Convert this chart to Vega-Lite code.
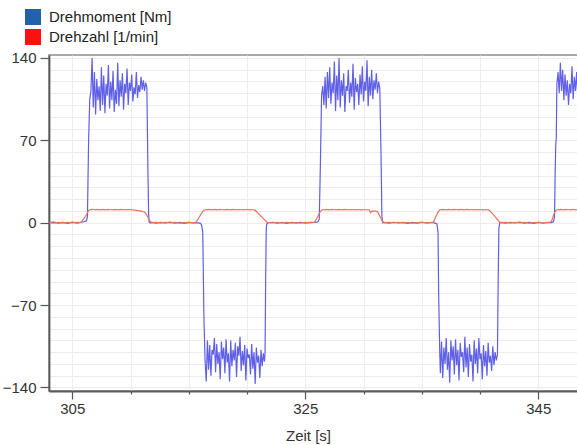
{
  "$schema": "https://vega.github.io/schema/vega-lite/v6.json",
  "width": 530,
  "height": 336,
  "autosize": "none",
  "padding": {"left": 49, "top": 55, "right": 0, "bottom": 54},
  "background": "white",
  "config": {
    "font": "Liberation Sans",
    "view": {"stroke": "#8c8c8c", "strokeWidth": 1.5}
  },
  "data": {"values": [
    {"t":303.0,"M":0,"n":0},{"t":303.4,"M":0.5,"n":-0.3},{"t":303.8,"M":-0.4,"n":0.2},{"t":304.2,"M":0.3,"n":-0.2},{"t":304.6,"M":-0.5,"n":0.3},{"t":305.0,"M":0.4,"n":-0.1},{"t":305.4,"M":-0.3,"n":0.2},{"t":305.75,"M":0.3,"n":0.2},
    {"t":306.0,"M":0.8,"n":3.5},{"t":306.2,"M":1.5,"n":6.5},{"t":306.3,"M":5,"n":8.5},{"t":306.4,"M":70,"n":10.2},
    {"t":306.5,"M":105,"n":11.0},{"t":306.6,"M":112,"n":11.3},{"t":306.7,"M":140,"n":11.1},{"t":306.8,"M":98,"n":11.4},{"t":306.9,"M":128,"n":11.2},
    {"t":307.0,"M":92,"n":11.0},{"t":307.1,"M":122,"n":11.3},{"t":307.2,"M":104,"n":11.1},{"t":307.3,"M":116,"n":10.9},{"t":307.4,"M":95,"n":11.2},
    {"t":307.5,"M":132,"n":11.0},{"t":307.6,"M":100,"n":11.3},{"t":307.7,"M":125,"n":11.1},{"t":307.8,"M":93,"n":10.9},{"t":307.9,"M":118,"n":11.2},
    {"t":308.0,"M":108,"n":11.0},{"t":308.1,"M":134,"n":11.3},{"t":308.2,"M":97,"n":11.1},{"t":308.3,"M":120,"n":11.0},{"t":308.4,"M":104,"n":11.2},
    {"t":308.5,"M":129,"n":10.9},{"t":308.6,"M":94,"n":11.1},{"t":308.7,"M":113,"n":11.3},{"t":308.8,"M":101,"n":11.0},{"t":308.9,"M":136,"n":11.2},
    {"t":309.0,"M":99,"n":10.9},{"t":309.1,"M":121,"n":11.1},{"t":309.2,"M":107,"n":11.3},{"t":309.3,"M":127,"n":11.0},{"t":309.4,"M":96,"n":11.2},
    {"t":309.5,"M":118,"n":11.0},{"t":309.6,"M":110,"n":11.1},{"t":309.7,"M":131,"n":10.9},{"t":309.8,"M":100,"n":11.2},{"t":309.9,"M":119,"n":11.0},
    {"t":310.0,"M":112,"n":11.1},{"t":310.1,"M":126,"n":10.9},{"t":310.2,"M":103,"n":11.0},{"t":310.3,"M":115,"n":10.8},{"t":310.4,"M":109,"n":10.7},
    {"t":310.5,"M":128,"n":10.4},{"t":310.6,"M":106,"n":10.3},{"t":310.7,"M":117,"n":10.1},{"t":310.8,"M":111,"n":10.0},{"t":310.9,"M":124,"n":9.8},
    {"t":311.0,"M":113,"n":9.6},{"t":311.1,"M":121,"n":9.3},{"t":311.2,"M":112,"n":9.0},{"t":311.3,"M":119,"n":8.0},{"t":311.4,"M":115,"n":6.5},
    {"t":311.5,"M":40,"n":4.5},{"t":311.55,"M":8,"n":3.5},{"t":311.6,"M":0.5,"n":2.5},{"t":311.7,"M":-0.3,"n":1},{"t":311.8,"M":0.2,"n":0},
    {"t":312.2,"M":-0.4,"n":0.2},{"t":312.6,"M":0.3,"n":-0.2},{"t":313.0,"M":-0.2,"n":0.3},{"t":313.4,"M":0.5,"n":-0.1},{"t":313.8,"M":-0.3,"n":0.2},
    {"t":314.2,"M":0.2,"n":-0.3},{"t":314.6,"M":-0.5,"n":0.1},{"t":315.0,"M":0.3,"n":0.2},{"t":315.4,"M":-0.2,"n":-0.1},{"t":315.6,"M":0,"n":0.3},
    {"t":315.8,"M":-0.2,"n":3},{"t":316.0,"M":-0.5,"n":6.5},{"t":316.1,"M":-2,"n":8},{"t":316.2,"M":-8,"n":9.5},{"t":316.3,"M":-80,"n":10.5},
    {"t":316.4,"M":-118,"n":11.0},{"t":316.5,"M":-135,"n":11.2},{"t":316.6,"M":-100,"n":11.0},{"t":316.7,"M":-125,"n":11.3},{"t":316.8,"M":-104,"n":11.1},
    {"t":316.9,"M":-130,"n":10.9},{"t":317.0,"M":-108,"n":11.2},{"t":317.1,"M":-112,"n":11.0},{"t":317.2,"M":-98,"n":11.3},{"t":317.3,"M":-127,"n":11.1},
    {"t":317.4,"M":-103,"n":10.9},{"t":317.5,"M":-120,"n":11.2},{"t":317.6,"M":-110,"n":11.0},{"t":317.7,"M":-133,"n":11.3},{"t":317.8,"M":-101,"n":11.1},
    {"t":317.9,"M":-116,"n":11.0},{"t":318.0,"M":-106,"n":11.2},{"t":318.1,"M":-128,"n":10.9},{"t":318.2,"M":-99,"n":11.1},{"t":318.3,"M":-119,"n":11.3},
    {"t":318.4,"M":-111,"n":11.0},{"t":318.5,"M":-135,"n":11.2},{"t":318.6,"M":-100,"n":10.9},{"t":318.7,"M":-122,"n":11.1},{"t":318.8,"M":-108,"n":11.3},
    {"t":318.9,"M":-117,"n":11.0},{"t":319.0,"M":-102,"n":11.2},{"t":319.1,"M":-131,"n":11.0},{"t":319.2,"M":-105,"n":11.1},{"t":319.3,"M":-113,"n":10.9},
    {"t":319.4,"M":-97,"n":11.2},{"t":319.5,"M":-126,"n":11.0},{"t":319.6,"M":-109,"n":11.1},{"t":319.7,"M":-121,"n":10.9},{"t":319.8,"M":-104,"n":11.0},
    {"t":319.9,"M":-134,"n":11.2},{"t":320.0,"M":-107,"n":11.0},{"t":320.1,"M":-115,"n":11.1},{"t":320.2,"M":-112,"n":10.9},{"t":320.3,"M":-129,"n":11.0},
    {"t":320.4,"M":-103,"n":11.1},{"t":320.5,"M":-124,"n":11.0},{"t":320.6,"M":-110,"n":10.9},{"t":320.7,"M":-137,"n":10.5},{"t":320.8,"M":-106,"n":9.5},
    {"t":320.9,"M":-119,"n":8.5},{"t":321.0,"M":-113,"n":7.5},{"t":321.1,"M":-132,"n":6.5},{"t":321.2,"M":-108,"n":5.5},{"t":321.3,"M":-122,"n":4.5},
    {"t":321.4,"M":-111,"n":3.5},{"t":321.5,"M":-118,"n":2.5},{"t":321.55,"M":-110,"n":2},{"t":321.6,"M":-50,"n":1.5},{"t":321.65,"M":-5,"n":1},
    {"t":321.7,"M":-1,"n":0.5},{"t":321.8,"M":0,"n":0},
    {"t":322.2,"M":0.4,"n":-0.2},{"t":322.6,"M":-0.3,"n":0.2},{"t":323.0,"M":0.2,"n":-0.1},{"t":323.4,"M":-0.5,"n":0.3},{"t":323.8,"M":0.3,"n":-0.2},
    {"t":324.2,"M":-0.2,"n":0.1},{"t":324.6,"M":0.4,"n":-0.3},{"t":325.0,"M":-0.3,"n":0.2},{"t":325.4,"M":0.2,"n":-0.1},{"t":325.8,"M":0.2,"n":0.4},
    {"t":326.0,"M":0.5,"n":4},{"t":326.1,"M":1,"n":6},{"t":326.2,"M":3,"n":8},{"t":326.3,"M":50,"n":9.5},{"t":326.4,"M":108,"n":10.5},
    {"t":326.5,"M":116,"n":11.0},{"t":326.6,"M":100,"n":11.2},{"t":326.7,"M":124,"n":11.0},{"t":326.8,"M":97,"n":11.3},{"t":326.9,"M":128,"n":11.1},
    {"t":327.0,"M":106,"n":10.9},{"t":327.1,"M":132,"n":11.2},{"t":327.2,"M":101,"n":11.0},{"t":327.3,"M":119,"n":11.3},{"t":327.4,"M":110,"n":11.1},
    {"t":327.5,"M":137,"n":11.0},{"t":327.6,"M":95,"n":11.2},{"t":327.7,"M":125,"n":10.9},{"t":327.8,"M":104,"n":11.1},{"t":327.9,"M":140,"n":11.3},
    {"t":328.0,"M":98,"n":11.0},{"t":328.1,"M":121,"n":11.2},{"t":328.2,"M":108,"n":10.9},{"t":328.3,"M":127,"n":11.1},{"t":328.4,"M":94,"n":11.3},
    {"t":328.5,"M":116,"n":11.0},{"t":328.6,"M":112,"n":11.2},{"t":328.7,"M":130,"n":11.0},{"t":328.8,"M":102,"n":11.1},{"t":328.9,"M":119,"n":10.9},
    {"t":329.0,"M":107,"n":11.2},{"t":329.1,"M":135,"n":11.0},{"t":329.2,"M":96,"n":11.1},{"t":329.3,"M":123,"n":10.9},{"t":329.4,"M":111,"n":11.0},
    {"t":329.5,"M":118,"n":11.2},{"t":329.6,"M":100,"n":11.0},{"t":329.7,"M":126,"n":11.1},{"t":329.8,"M":109,"n":10.9},{"t":329.9,"M":133,"n":11.0},
    {"t":330.0,"M":103,"n":11.1},{"t":330.1,"M":120,"n":11.0},{"t":330.2,"M":112,"n":10.9},{"t":330.3,"M":138,"n":11.0},{"t":330.4,"M":99,"n":11.0},
    {"t":330.5,"M":124,"n":10.8},{"t":330.6,"M":108,"n":8.5},{"t":330.7,"M":130,"n":9.5},{"t":330.8,"M":105,"n":10.0},{"t":330.9,"M":121,"n":9.9},
    {"t":331.0,"M":113,"n":9.8},{"t":331.1,"M":127,"n":9.6},{"t":331.2,"M":110,"n":9.4},{"t":331.3,"M":120,"n":7.5},{"t":331.4,"M":114,"n":5.5},
    {"t":331.5,"M":60,"n":3.5},{"t":331.58,"M":5,"n":2},{"t":331.65,"M":0,"n":1},{"t":331.75,"M":0.2,"n":0},
    {"t":332.2,"M":-0.3,"n":0.2},{"t":332.6,"M":0.4,"n":-0.2},{"t":333.0,"M":-0.2,"n":0.3},{"t":333.4,"M":0.3,"n":-0.1},{"t":333.8,"M":-0.5,"n":0.2},
    {"t":334.2,"M":0.2,"n":-0.3},{"t":334.6,"M":-0.3,"n":0.1},{"t":335.0,"M":0.4,"n":0.2},{"t":335.4,"M":-0.2,"n":-0.1},{"t":335.8,"M":0.1,"n":0.2},
    {"t":336.0,"M":0,"n":0.5},{"t":336.2,"M":-0.5,"n":5},{"t":336.3,"M":-1,"n":7},{"t":336.4,"M":-8,"n":9},{"t":336.45,"M":-60,"n":10},
    {"t":336.55,"M":-112,"n":11.0},{"t":336.6,"M":-128,"n":11.2},{"t":336.7,"M":-101,"n":11.0},{"t":336.8,"M":-132,"n":11.3},{"t":336.9,"M":-106,"n":11.1},
    {"t":337.0,"M":-120,"n":10.9},{"t":337.1,"M":-98,"n":11.2},{"t":337.2,"M":-125,"n":11.0},{"t":337.3,"M":-110,"n":11.3},{"t":337.4,"M":-136,"n":11.1},
    {"t":337.5,"M":-100,"n":10.9},{"t":337.6,"M":-117,"n":11.2},{"t":337.7,"M":-105,"n":11.0},{"t":337.8,"M":-129,"n":11.3},{"t":337.9,"M":-99,"n":11.1},
    {"t":338.0,"M":-121,"n":11.0},{"t":338.1,"M":-108,"n":11.2},{"t":338.2,"M":-134,"n":10.9},{"t":338.3,"M":-102,"n":11.1},{"t":338.4,"M":-114,"n":11.3},
    {"t":338.5,"M":-110,"n":11.0},{"t":338.6,"M":-127,"n":11.2},{"t":338.7,"M":-97,"n":10.9},{"t":338.8,"M":-123,"n":11.1},{"t":338.9,"M":-106,"n":11.3},
    {"t":339.0,"M":-131,"n":11.0},{"t":339.1,"M":-103,"n":11.2},{"t":339.2,"M":-118,"n":11.0},{"t":339.3,"M":-112,"n":11.1},{"t":339.4,"M":-135,"n":10.9},
    {"t":339.5,"M":-100,"n":11.2},{"t":339.6,"M":-120,"n":11.0},{"t":339.7,"M":-107,"n":11.1},{"t":339.8,"M":-128,"n":10.9},{"t":339.9,"M":-98,"n":11.0},
    {"t":340.0,"M":-116,"n":11.2},{"t":340.1,"M":-111,"n":11.0},{"t":340.2,"M":-133,"n":11.1},{"t":340.3,"M":-104,"n":10.9},{"t":340.4,"M":-122,"n":11.0},
    {"t":340.5,"M":-109,"n":11.1},{"t":340.6,"M":-130,"n":11.0},{"t":340.7,"M":-102,"n":10.9},{"t":340.8,"M":-119,"n":10.5},{"t":340.9,"M":-113,"n":9.5},
    {"t":341.0,"M":-126,"n":8.5},{"t":341.1,"M":-105,"n":7.5},{"t":341.2,"M":-121,"n":6.3},{"t":341.3,"M":-110,"n":5},{"t":341.4,"M":-117,"n":3.8},
    {"t":341.5,"M":-112,"n":2.5},{"t":341.55,"M":-60,"n":2},{"t":341.62,"M":-5,"n":1.2},{"t":341.7,"M":0,"n":0.5},{"t":341.8,"M":0.2,"n":0},
    {"t":342.2,"M":-0.4,"n":0.2},{"t":342.6,"M":0.3,"n":-0.2},{"t":343.0,"M":-0.2,"n":0.3},{"t":343.4,"M":0.5,"n":-0.1},{"t":343.8,"M":-0.3,"n":0.2},
    {"t":344.2,"M":0.2,"n":-0.3},{"t":344.6,"M":-0.5,"n":0.1},{"t":345.0,"M":0.3,"n":0.2},{"t":345.4,"M":-0.2,"n":-0.1},{"t":345.8,"M":0.1,"n":0.2},
    {"t":346.0,"M":0,"n":0.3},{"t":346.1,"M":0.1,"n":1},{"t":346.2,"M":0.3,"n":3},{"t":346.3,"M":1,"n":6},{"t":346.4,"M":5,"n":8.5},
    {"t":346.45,"M":40,"n":9.5},{"t":346.5,"M":65,"n":10.2},{"t":346.55,"M":72,"n":10.6},{"t":346.6,"M":118,"n":11.0},{"t":346.7,"M":128,"n":11.2},
    {"t":346.8,"M":110,"n":11.0},{"t":346.9,"M":136,"n":11.3},{"t":347.0,"M":112,"n":11.1},{"t":347.1,"M":130,"n":10.9},{"t":347.2,"M":104,"n":11.2},
    {"t":347.3,"M":126,"n":11.0},{"t":347.4,"M":108,"n":11.3},{"t":347.5,"M":121,"n":11.1},{"t":347.6,"M":100,"n":11.0},{"t":347.7,"M":118,"n":11.2},
    {"t":347.8,"M":110,"n":10.9},{"t":347.9,"M":133,"n":11.1},{"t":348.0,"M":105,"n":11.3},{"t":348.1,"M":124,"n":11.0},{"t":348.2,"M":112,"n":11.2},
    {"t":348.3,"M":128,"n":11.0},{"t":348.4,"M":107,"n":11.1},{"t":348.5,"M":120,"n":11.0}
  ]},
  "transform": [{"fold": ["M", "n"], "as": ["s", "v"]}],
  "mark": {"type": "line", "strokeWidth": 1.2, "clip": true},
  "encoding": {
    "x": {
      "field": "t", "type": "quantitative",
      "scale": {"domain": [303, 348.5], "nice": false, "zero": false},
      "axis": {
        "values": [305, 310, 315, 320, 325, 330, 335, 340, 345],
        "labelExpr": "datum.value % 20 == 5 ? datum.label : ''",
        "tickSize": {"condition": {"test": "datum.value % 20 == 5", "value": 8}, "value": 3},
        "tickColor": "#555555", "tickWidth": 1.2,
        "domainColor": "#5a5a5a", "domainWidth": 1.8,
        "grid": true, "gridColor": "#ececec", "gridWidth": 1,
        "labelFont": "Liberation Sans", "labelFontSize": 15, "labelColor": "#333333", "labelPadding": 2,
        "title": "Zeit [s]", "titleFont": "Liberation Sans", "titleFontSize": 15, "titleFontWeight": "normal",
        "titleColor": "#333333", "titleX": 259, "titleY": 49, "titleBaseline": "alphabetic", "titleAlign": "center"
      }
    },
    "y": {
      "field": "v", "type": "quantitative",
      "scale": {"domain": [-143, 142.5], "nice": false, "zero": false},
      "axis": {
        "values": [-140, -130, -120, -110, -100, -90, -80, -70, -60, -50, -40, -30, -20, -10, 0, 10, 20, 30, 40, 50, 60, 70, 80, 90, 100, 110, 120, 130, 140],
        "labelExpr": "datum.value % 70 == 0 ? datum.label : ''",
        "tickSize": {"condition": {"test": "datum.value % 70 == 0", "value": 9}, "value": 0},
        "tickColor": "#555555", "tickWidth": 1.2,
        "domainColor": "#5a5a5a", "domainWidth": 1.8,
        "grid": true, "gridColor": "#ececec", "gridWidth": 1,
        "labelFont": "Liberation Sans", "labelFontSize": 15, "labelColor": "#333333", "labelPadding": 4,
        "title": null
      }
    },
    "stroke": {
      "field": "s", "type": "nominal",
      "scale": {"domain": ["M", "n"], "range": ["#6060e6", "#e8735f"]},
      "legend": {
        "orient": "none", "legendX": -24, "legendY": -46, "direction": "vertical",
        "title": null, "padding": 0,
        "symbolType": "square", "symbolSize": 256, "symbolStrokeWidth": 0, "symbolOpacity": 1,
        "labelFont": "Liberation Sans", "labelFontSize": 15, "labelColor": "#222222", "labelOffset": 8,
        "rowPadding": 4,
        "labelExpr": "datum.value == 'M' ? 'Drehmoment [Nm]' : 'Drehzahl [1/min]'",
        "encode": {
          "symbols": {
            "update": {
              "fill": {"signal": "datum.value == 'M' ? '#2262a8' : '#ff1010'"},
              "stroke": {"signal": "datum.value == 'M' ? '#2262a8' : '#ff1010'"},
              "strokeWidth": {"value": 0},
              "opacity": {"value": 1}
            }
          }
        }
      }
    }
  }
}
